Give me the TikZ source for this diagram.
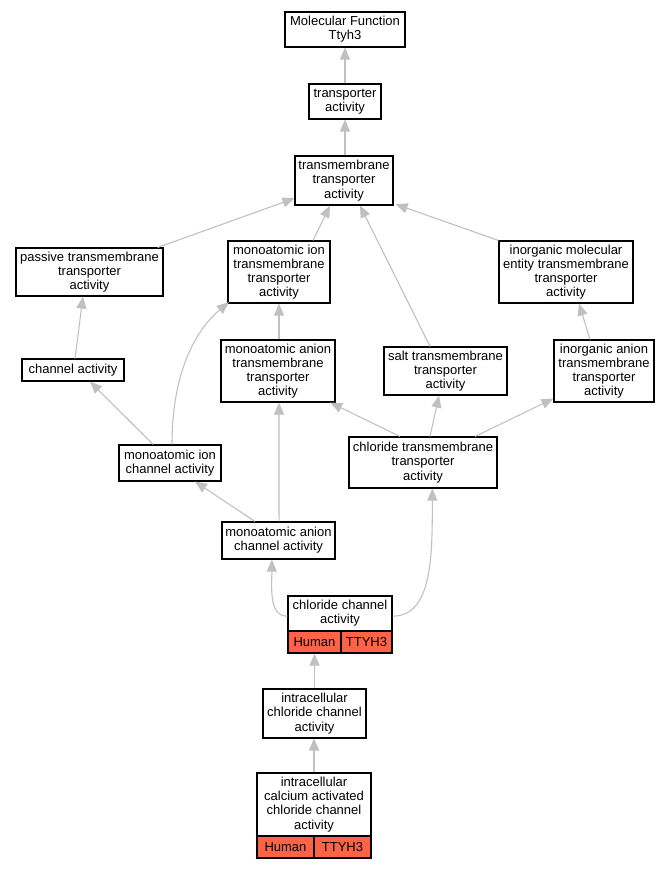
\documentclass[tikz,border=0pt]{standalone}
\usepackage{fontspec}
\setmainfont{Liberation Sans}
\usetikzlibrary{arrows.meta,calc}
\definecolor{edgegray}{RGB}{192,192,192}
\definecolor{orgred}{RGB}{255,99,71}
\newcommand{\nd}[7][]{%
  \node[box,#1,minimum width={(#5-#3)*0.75pt},minimum height={(#6-#4)*0.75pt}] (#2) at ({(#3+#5)/2},{(#4+#6)/2}) {#7};}
\begin{document}
\begin{tikzpicture}[x=0.75pt,y=-0.75pt,
  box/.style={draw=black,line width=0.8pt,fill=white,inner sep=0pt,align=center,
    font=\fontsize{9.75pt}{10.6pt}\selectfont},
  redcell/.style={fill=orgred},
  edge/.style={draw=edgegray,line width=0.8pt,-{Triangle[length=9pt,width=7.5pt]}}]
\path[use as bounding box,fill=white] (0,0) rectangle (669,869);
% nodes
\nd{mf}{285}{12}{405}{47}{Molecular Function\\Ttyh3}
\nd{ta}{309}{84}{381}{119}{transporter\\activity}
\nd{tm}{295}{156}{393}{205}{transmembrane\\transporter\\activity}
\nd{pa}{16}{248}{163}{296}{passive transmembrane\\transporter\\activity}
\nd{mitm}{228}{241}{330}{303}{monoatomic ion\\transmembrane\\transporter\\activity}
\nd{ime}{499}{241}{633}{303}{inorganic molecular\\entity transmembrane\\transporter\\activity}
\nd{ca}{22}{359}{124}{381}{channel activity}
\nd{matm}{221}{340}{335}{402}{monoatomic anion\\transmembrane\\transporter\\activity}
\nd{salt}{384}{347}{507}{395}{salt transmembrane\\transporter\\activity}
\nd{ia}{554}{340}{654}{402}{inorganic anion\\transmembrane\\transporter\\activity}
\nd{mic}{119}{445}{221}{481}{monoatomic ion\\channel activity}
\nd{ctm}{349}{437}{497}{488}{chloride transmembrane\\transporter\\activity}
\nd{mac}{222}{522}{335}{559}{monoatomic anion\\channel activity}
\nd{cc}{288}{596}{392}{631}{chloride channel\\activity}
\nd[redcell]{cch}{288}{631}{341}{653}{Human}
\nd[redcell]{cct}{341}{631}{392}{653}{TTYH3}
\nd{icc}{263}{689}{366}{738}{intracellular\\chloride channel\\activity}
\nd{icac}{257}{773}{371}{836}{intracellular\\calcium activated\\chloride channel\\activity}
\nd[redcell]{icach}{257}{836}{314}{858}{Human}
\nd[redcell]{icact}{314}{836}{371}{858}{TTYH3}
% edges
\draw[edge] (ta.north) -- (mf.south);
\draw[edge] ([xshift=0.75pt]tm.north) -- ([xshift=0pt]ta.south);
\draw[edge] (pa) -- (tm);
\draw[edge] ([xshift=25.5pt]mitm.north) -- ([xshift=-10.5pt]tm.south);
\draw[edge] ([xshift=-11.6pt]salt.north) -- ([xshift=12pt]tm.south);
\draw[edge] (ime.north west) -- ([xshift=1.5pt,yshift=1pt]tm.south east);
\draw[edge] ([xshift=1.5pt]ca.north) -- ([xshift=-4.9pt]pa.south);
\draw[edge] ([xshift=0.75pt]matm.north) -- (mitm.south);
\draw[edge] ([xshift=-10.5pt]ia.north) -- ([xshift=9.75pt]ime.south);
\draw[edge] ([xshift=-12.75pt]mic.north) -- ([xshift=12.75pt]ca.south);
\draw[edge] ([xshift=1.5pt]mic.north) .. controls ([xshift=1.5pt,yshift=54pt]mic.north) and ([xshift=-24pt,yshift=-20pt]mitm.south west) .. ([xshift=1pt,yshift=1pt]mitm.south west);
\draw[edge] ([xshift=-17.25pt]ctm.north) -- ([xshift=-4pt]matm.south east);
\draw[edge] ([xshift=5.25pt]ctm.north) -- ([xshift=-4.9pt]salt.south);
\draw[edge] ([xshift=39pt]ctm.north) -- ([yshift=3pt]ia.south west);
\draw[edge] ([xshift=-17.6pt]mac.north) -- ([xshift=18.75pt]mic.south);
\draw[edge] ([xshift=0.4pt]mac.north) -- ([xshift=0.75pt]matm.south);
\draw[edge] ([yshift=-2pt]cc.west) .. controls ([xshift=-14pt,yshift=-2pt]cc.west) and ([xshift=-5pt,yshift=-22pt]mac.south) .. ([xshift=-5pt]mac.south);
\draw[edge] ([yshift=-2pt]cc.east) .. controls ([xshift=30pt,yshift=-2pt]cc.east) and ([xshift=7pt,yshift=-50pt]ctm.south) .. ([xshift=7pt]ctm.south);
\draw[edge] (icc.north) -- (icc.north |- cch.south);
\draw[edge] (icac.north) -- ([xshift=0pt]icac.north |- icc.south);
\end{tikzpicture}
\end{document}
